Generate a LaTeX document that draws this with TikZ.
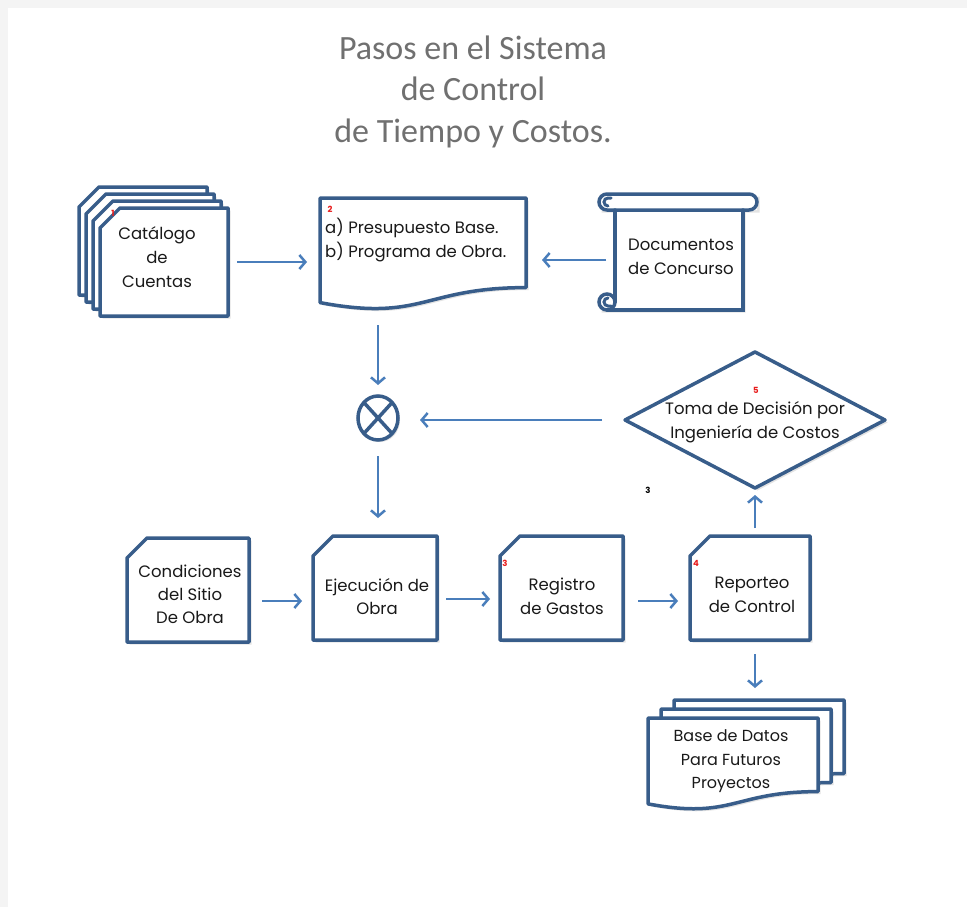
\documentclass[tikz,border=0pt]{standalone}
\usepackage{fontspec}
\setmainfont{Poppins}
\newfontfamily\titlefont{Carlito}
\usetikzlibrary{shadows,arrows.meta,shapes.geometric}
\definecolor{edgec}{RGB}{56,93,138}
\definecolor{arrc}{RGB}{74,126,187}
\definecolor{titlec}{RGB}{112,112,112}
\definecolor{numred}{RGB}{232,28,28}
\begin{document}
\begin{tikzpicture}[x=1pt,y=-1pt,
  shp/.style={draw=edgec, line width=3.5pt, fill=white, line join=round,
    drop shadow={opacity=0.22, shadow xshift=2.5pt, shadow yshift=-2.5pt}},
  ln/.style={draw=edgec, line width=3.5pt, line cap=round},
  arr/.style={draw=arrc, line width=2.5pt, -{Straight Barb[length=6pt,width=14pt]}},
  box/.style={inner sep=0pt, outer sep=0pt, minimum width=#1},
  lbl/.style={font=\fontsize{16.5}{24}\selectfont, align=center, text=black!90, inner sep=0pt},
  num/.style={text=numred, font=\fontsize{8.5}{8.5}\selectfont\bfseries, inner sep=0pt}
]
\useasboundingbox (0,0) rectangle (967,907);
\fill[white] (0,0) rectangle (967,907);
\fill[gray!9] (0,0) rectangle (967,8);
\fill[gray!9] (0,0) rectangle (8,907);

% title
\node[text=titlec, font=\titlefont\fontsize{34}{41.5}\selectfont, align=center, inner sep=0pt] (title) at (473,91.5) {Pasos en el Sistema\\de Control\\de Tiempo y Costos.};

% named shape nodes (outlines drawn below)
\node[box=128pt, minimum height=108pt] (cat) at (164,262) {};
\node[box=206pt, minimum height=112pt] (doc2) at (423,254) {};
\node[box=128pt, minimum height=100pt] (docs) at (679,260) {};
\node[box=260pt, minimum height=136pt] (dec) at (755,420) {};
\node[box=122pt, minimum height=104pt] (cond) at (188,590) {};
\node[box=124pt, minimum height=104pt] (ejec) at (375,588) {};
\node[box=123pt, minimum height=104pt] (reg) at (561.5,588) {};
\node[box=120pt, minimum height=104pt] (rep) at (750,588) {};
\node[box=170pt, minimum height=92pt] (db) at (733,764) {};
\coordinate (repbot) at (rep.south -| dec.south);
\coordinate (dbtop) at (dec.south |- db.north);

% Catalogo stack
\foreach \k in {3,2,1,0}{
  \begin{scope}[shift={(-7*\k,-7*\k)}]
    \draw[shp] (100,228) -- (120,208) -- (228,208) -- (228,316) -- (100,316) -- cycle;
  \end{scope}
}
\node[lbl] (catt) at (157,257) {Catálogo\\de\\Cuentas};
\node[num] (n1) at (113,213) {1};

% document 2
\draw[shp] (320,198) -- (526,198) -- (526,287.6)
  .. controls (423,287.6) and (423,322) .. (320,302.6) -- cycle;
\node[lbl, align=left, anchor=west] (doc2t) at (325,240.5) {a) Presupuesto Base.\\b) Programa de Obra.};
\node[num] (n2) at (330,209) {2};

% scroll (Documentos de Concurso)
\fill[white, drop shadow={opacity=0.22, shadow xshift=2.5pt, shadow yshift=-2.5pt}]
  (599,194) rectangle (757,210) (615,210) rectangle (743,310) (599,294) rectangle (615,310);
\draw[ln] (615,210) -- (615,302);
\draw[ln] (607,310) -- (743,310) -- (743,210);
\draw[ln] (607,194) -- (749,194) arc[start angle=-90, end angle=90, radius=8]
  -- (607,210) arc[start angle=90, end angle=270, radius=8];
\draw[ln, line width=3pt] (608,206) arc[start angle=90, end angle=270, radius=4] -- (611,198);
\draw[ln] (607,302) circle[radius=8];
\draw[ln, line width=3pt] (608,298) arc[start angle=-90, end angle=-270, radius=4] -- (611,306);
\node[lbl] (docst) at (681,256.5) {Documentos\\de Concurso};

% X circle
\node[draw=edgec, line width=3.5pt, ellipse, minimum width=40pt, minimum height=44pt, inner sep=0pt, outer sep=0pt, fill=white,
  drop shadow={opacity=0.22, shadow xshift=2pt, shadow yshift=-2pt}] (xc) at (378,418) {};
\draw[ln, line cap=butt] (xc.north east) -- (xc.south west);
\draw[ln, line cap=butt] (xc.north west) -- (xc.south east);

% decision diamond
\draw[shp] (dec.west) -- (dec.north) -- (dec.east) -- (dec.south) -- cycle;
\node[lbl] (dect) at (755,422) {Toma de Decisión por\\Ingeniería de Costos};
\node[num] (n5) at (756,390) {5};
\node[text=black, font=\fontsize{8.5}{8.5}\selectfont\bfseries, inner sep=0pt] (n3b) at (648,490) {3};

% cards
\foreach \c in {cond,ejec,reg,rep}{
  \draw[shp] ([yshift=-20pt]\c.north west) -- ([xshift=20pt]\c.north west) -- (\c.north east)
    -- (\c.south east) -- (\c.south west) -- cycle;
}
\node[lbl, font=\fontsize{16.5}{23}\selectfont] (condt) at (190,594) {Condiciones\\del Sitio\\De Obra};
\node[lbl, font=\fontsize{16.5}{23}\selectfont] (eject) at (377,596.5) {Ejecución de\\Obra};
\node[lbl] (regt) at (562,596) {Registro\\de Gastos};
\node[lbl] (rept) at (752,595) {Reporteo\\de Control};
\node[num] (n3) at (505,563) {3};
\node[num] (n4) at (696,563) {4};

% database stack
\foreach \k in {2,1,0}{
  \begin{scope}[shift={(13*\k,-9*\k)}]
    \draw[shp] (648,718) -- (818,718) -- (818,791.6)
      .. controls (733,791.6) and (733,819.8) .. (648,803.9) -- cycle;
  \end{scope}
}
\node[lbl, font=\fontsize{16}{23.5}\selectfont] (dbt) at (731,761.5) {Base de Datos\\Para Futuros\\Proyectos};

% connectors
\draw[arr, shorten <=9pt, shorten >=13pt] (cat.east) -- (cat.east -| doc2.west);
\draw[arr, shorten <=9pt, shorten >=16pt] (docs.west) -- (docs.west -| doc2.east);
\draw[arr, shorten <=15pt, shorten >=11pt] (xc.north |- doc2.south) -- (xc.north);
\draw[arr, shorten <=23pt, shorten >=22pt] (dec.west) -- (dec.west -| xc.east);
\draw[arr, shorten <=16pt, shorten >=18pt] (xc.south) -- (xc.south |- ejec.north);
\draw[arr, shorten <=13pt, shorten >=11pt] ([yshift=-11pt]cond.east) -- ([yshift=-11pt]cond.east -| ejec.west);
\draw[arr, shorten <=9pt, shorten >=10pt] ([yshift=-11pt]ejec.east) -- ([yshift=-11pt]ejec.east -| reg.west);
\draw[arr, shorten <=15pt, shorten >=12pt] ([yshift=-13pt]reg.east) -- ([yshift=-13pt]reg.east -| rep.west);
\draw[arr, shorten <=8pt, shorten >=7pt] (rep.north -| dec.south) -- (dec.south);
\draw[arr, shorten <=14pt, shorten >=30pt] (repbot) -- (dbtop);
\end{tikzpicture}
\end{document}
